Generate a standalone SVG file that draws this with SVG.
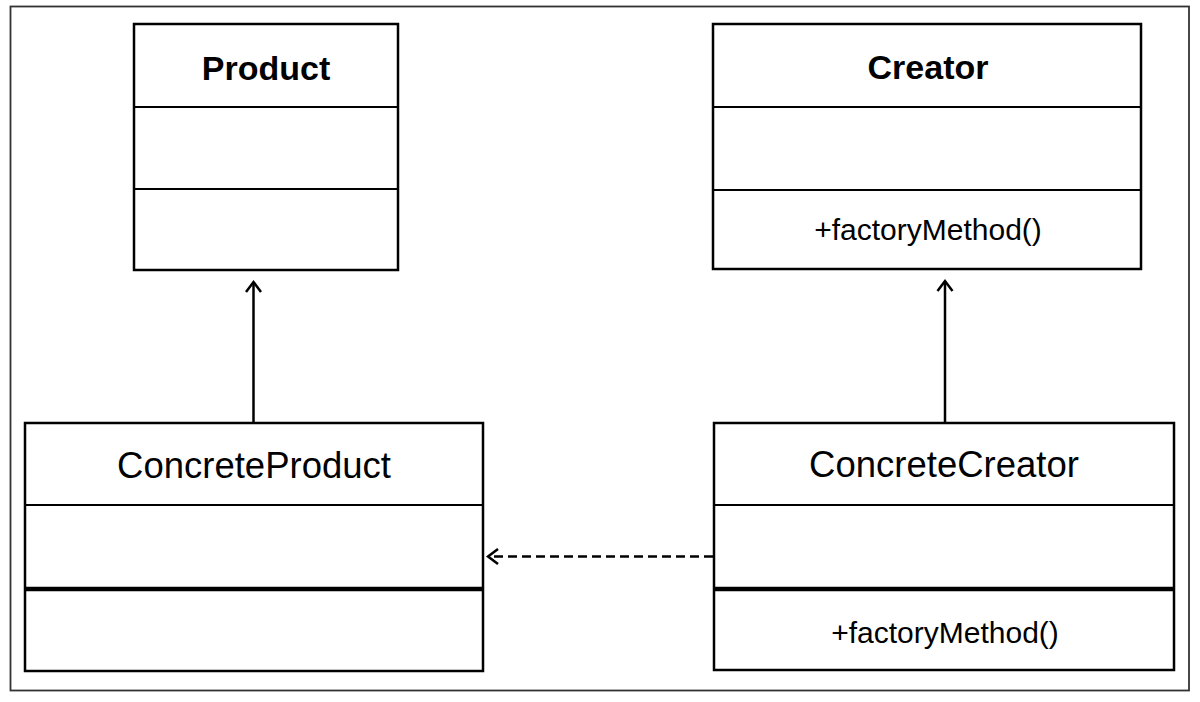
<svg xmlns="http://www.w3.org/2000/svg" width="1200" height="702" viewBox="0 0 1200 702">
<style>
.box{fill:#fff;stroke:#000;stroke-width:2.5}
.div{stroke:#000;stroke-width:2}
.thick{stroke:#000;stroke-width:4.5}
.title{font-family:"Liberation Sans",Arial,sans-serif;font-weight:bold;font-size:34px;text-anchor:middle;fill:#000}
.name{font-family:"Liberation Sans",Arial,sans-serif;font-size:36.5px;text-anchor:middle;fill:#000}
.op{font-family:"Liberation Sans",Arial,sans-serif;font-size:30px;text-anchor:middle;fill:#000}
.edge{fill:none;stroke:#000;stroke-width:2.5}
</style>
<defs>
<marker id="open" viewBox="0 0 14 18" refX="12" refY="9" markerWidth="14" markerHeight="18" markerUnits="userSpaceOnUse" orient="auto" overflow="visible">
<path d="M2,1.5 L12,9 L2,16.5" fill="none" stroke="#000" stroke-width="2.5" stroke-dasharray="none"/>
</marker>
</defs>
<rect x="0" y="0" width="1200" height="702" fill="#fff"/>
<rect x="10.5" y="6.5" width="1178.5" height="684" fill="none" stroke="#333" stroke-width="1.8"/>
<g id="product">
<rect class="box" x="134" y="24" width="264" height="246"/>
<line class="div" x1="134" y1="107" x2="398" y2="107"/>
<line class="div" x1="134" y1="189" x2="398" y2="189"/>
<text class="title" x="266" y="80">Product</text>
</g>
<g id="creator">
<rect class="box" x="713" y="24" width="428" height="245"/>
<line class="div" x1="713" y1="107" x2="1141" y2="107"/>
<line class="div" x1="713" y1="190" x2="1141" y2="190"/>
<text class="title" x="928" y="79">Creator</text>
<text class="op" x="928" y="240">+factoryMethod()</text>
</g>
<g id="concreteproduct">
<rect class="box" x="25" y="423" width="458" height="248"/>
<line class="div" x1="25" y1="505" x2="483" y2="505"/>
<line class="thick" x1="25" y1="589" x2="483" y2="589"/>
<text class="name" x="254" y="478">ConcreteProduct</text>
</g>
<g id="concretecreator">
<rect class="box" x="714" y="423" width="460" height="247"/>
<line class="div" x1="714" y1="505" x2="1174" y2="505"/>
<line class="thick" x1="714" y1="589" x2="1174" y2="589"/>
<text class="name" x="944" y="477">ConcreteCreator</text>
<text class="op" x="945" y="643">+factoryMethod()</text>
</g>
<g id="connectors">
<path class="edge" d="M253.5,422 L253.5,282" marker-end="url(#open)"/>
<path class="edge" d="M945,422 L945,281" marker-end="url(#open)"/>
<path class="edge" d="M713,556.5 L488,556.5" stroke-dasharray="9,5" marker-end="url(#open)"/>
</g>
</svg>
